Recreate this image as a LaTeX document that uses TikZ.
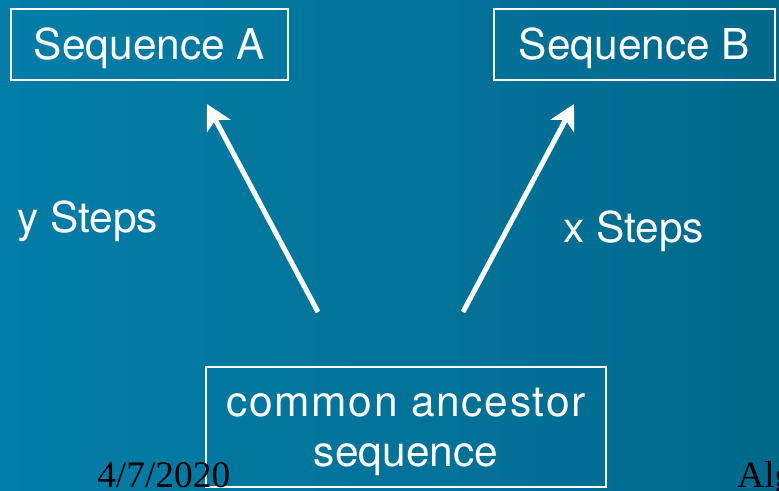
\documentclass[tikz,border=0pt]{standalone}
\usepackage{fontspec}
\setmainfont{TeX Gyre Heros}
\newfontfamily\footfont{Liberation Serif}
\usepackage{tikz}
\usetikzlibrary{arrows.meta,positioning}

\definecolor{bgleft}{RGB}{3,126,168}
\definecolor{bgright}{RGB}{0,105,140}

\tikzset{
  seqbox/.style={draw=white, line width=0.05cm, text=white, inner sep=0pt,
    font=\fontsize{30.2}{35.6}\selectfont, text height=21.7pt, text depth=0pt},
  seqtext/.style={text=white, inner sep=0pt, align=center,
    font=\fontsize{30.2}{35.6}\selectfont},
  steplabel/.style={text=white, inner sep=0pt, anchor=base west,
    font=\fontsize{30.2}{35.6}\selectfont},
  footlabel/.style={text=black, inner sep=0pt, anchor=base west,
    font=\footfont\fontsize{26.6}{30}\selectfont},
  evolve/.style={draw=white, line width=0.125cm,
    -{Stealth[length=0.62cm, width=0.66cm, inset=0.17cm]}}
}

\begin{document}
\begin{tikzpicture}[x=0.025cm, y=0.025cm]
                % Hintergrund
                \useasboundingbox (0,0) rectangle (779,491);
                \clip (0,0) rectangle (779,491);
                \shade[left color=bgleft, right color=bgright] (0,0) rectangle (779,491);
                % Sequenzen
                \node[seqbox, minimum width=6.925cm, minimum height=1.775cm] (seqA) at (149.5,446.5) {Sequence A};
                \node[seqbox, minimum width=7.025cm, minimum height=1.775cm] (seqB) at (634.5,446.5) {Sequence B};
                \node[seqbox, minimum width=10cm, minimum height=3cm] (anc) at (406,64) {};
                \node[seqtext, anchor=base] (ancText) at (406,24)
                  {\addfontfeature{LetterSpace=4}common ancestor\\sequence};
                % Schritte
                \node[steplabel] (stepsY) at (17,258) {y Steps};
                \node[steplabel] (stepsX) at (563,248) {x Steps};
                % Pfeile
                \coordinate (ancL) at (318,179);
                \coordinate (ancR) at (463,179);
                \coordinate (tipA) at (207,387);
                \coordinate (tipB) at (574,387);
                \draw[evolve] (ancL) -- (tipA);
                \draw[evolve] (ancR) -- (tipB);
                % Fusszeile
                \node[footlabel] (date) at (97,3.5) {4/7/2020};
                \node[footlabel] (foot) at (737,3.5) {Alg};
            \end{tikzpicture}
\end{document}
